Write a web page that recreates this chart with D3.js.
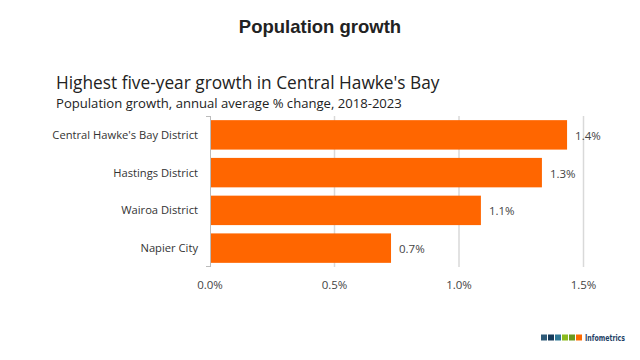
<!DOCTYPE html>
<html><head><meta charset="utf-8">
<script src="https://cdn.jsdelivr.net/npm/d3@7"></script>
<style>body{margin:0;background:#fff}svg{display:block}</style>
</head><body>
<svg id="c" width="640" height="360"></svg>
<script>
const categories = ["Central Hawke's Bay District","Hastings District","Wairoa District","Napier City"];
const values = [1.434, 1.333, 1.088, 0.727];
const valueLabels = ["1.4%","1.3%","1.1%","0.7%"];
const ticks = [0, 0.5, 1.0, 1.5];
const tickLabels = ["0.0%","0.5%","1.0%","1.5%"];
const logoColors = ["#2e5a78","#163a5a","#2f7896","#8cbb1f","#6a9a1e","#ff6a00"];

const svg = d3.select("#c");
const font = "'Open Sans', 'Noto Sans', sans-serif";

svg.append("text").attr("x",320).attr("y",33).attr("text-anchor","middle")
  .attr("font-family","'Liberation Sans', Arial, sans-serif").attr("font-weight","bold")
  .attr("font-size",18.5).attr("fill","#222").text("Population growth");
svg.append("text").attr("x",56).attr("y",89).attr("font-family",font)
  .attr("font-size",17.3).attr("fill","#222").text("Highest five-year growth in Central Hawke's Bay");
svg.append("text").attr("x",56).attr("y",108).attr("font-family",font)
  .attr("font-size",13.1).attr("fill","#222").text("Population growth, annual average % change, 2018-2023");

const x = d3.scaleLinear().domain([0,1.5]).range([210,583.5]);
const y = d3.scaleBand().domain(categories).range([116,267]).paddingInner(0.22).paddingOuter(0.11);

// gridlines
svg.append("g").selectAll("line").data(ticks.slice(1)).join("line")
  .attr("x1",d=>x(d)).attr("x2",d=>x(d)).attr("y1",116).attr("y2",267)
  .attr("stroke","#d9d9d9").attr("stroke-width",1.5);

svg.append("g").selectAll("rect").data(values).join("rect")
  .attr("x",x(0)).attr("y",(d,i)=>y(categories[i])).attr("width",d=>x(d)-x(0))
  .attr("height",y.bandwidth()).attr("fill","#ff6600");

// left axis line
const ax = svg.append("g").attr("stroke","#bbb").attr("stroke-width",1);
ax.append("line").attr("x1",210.5).attr("x2",210.5).attr("y1",116).attr("y2",267);
ax.append("line").attr("x1",206).attr("x2",210.5).attr("y1",116.5).attr("y2",116.5);
ax.append("line").attr("x1",206).attr("x2",210.5).attr("y1",266.5).attr("y2",266.5);

svg.append("g").selectAll("text").data(categories).join("text")
  .attr("x",198).attr("y",d=>y(d)+y.bandwidth()/2+4).attr("text-anchor","end")
  .attr("font-family",font).attr("font-size",11.2).attr("fill","#333").text(d=>d);

svg.append("g").selectAll("text").data(values).join("text")
  .attr("x",d=>x(d)+8).attr("y",(d,i)=>y(categories[i])+y.bandwidth()/2+5)
  .attr("font-family",font).attr("font-size",11.5).attr("fill","#444").text((d,i)=>valueLabels[i]);

svg.append("g").selectAll("text").data(ticks).join("text")
  .attr("x",d=>x(d)).attr("y",289).attr("text-anchor","middle")
  .attr("font-family",font).attr("font-size",11.5).attr("fill","#444").text((d,i)=>tickLabels[i]);

// logo
svg.append("g").selectAll("rect").data(logoColors).join("rect")
  .attr("x",(d,i)=>541+i*7).attr("y",334.5).attr("width",6).attr("height",6).attr("fill",d=>d);
svg.append("text").attr("x",585).attr("y",341).attr("font-family","'DejaVu Sans Condensed', 'Liberation Sans', sans-serif")
  .attr("font-weight","bold").attr("font-size",9).attr("fill","#1f3f66")
  .attr("textLength",40).attr("lengthAdjust","spacingAndGlyphs").text("Infometrics");
</script>
</body></html>
